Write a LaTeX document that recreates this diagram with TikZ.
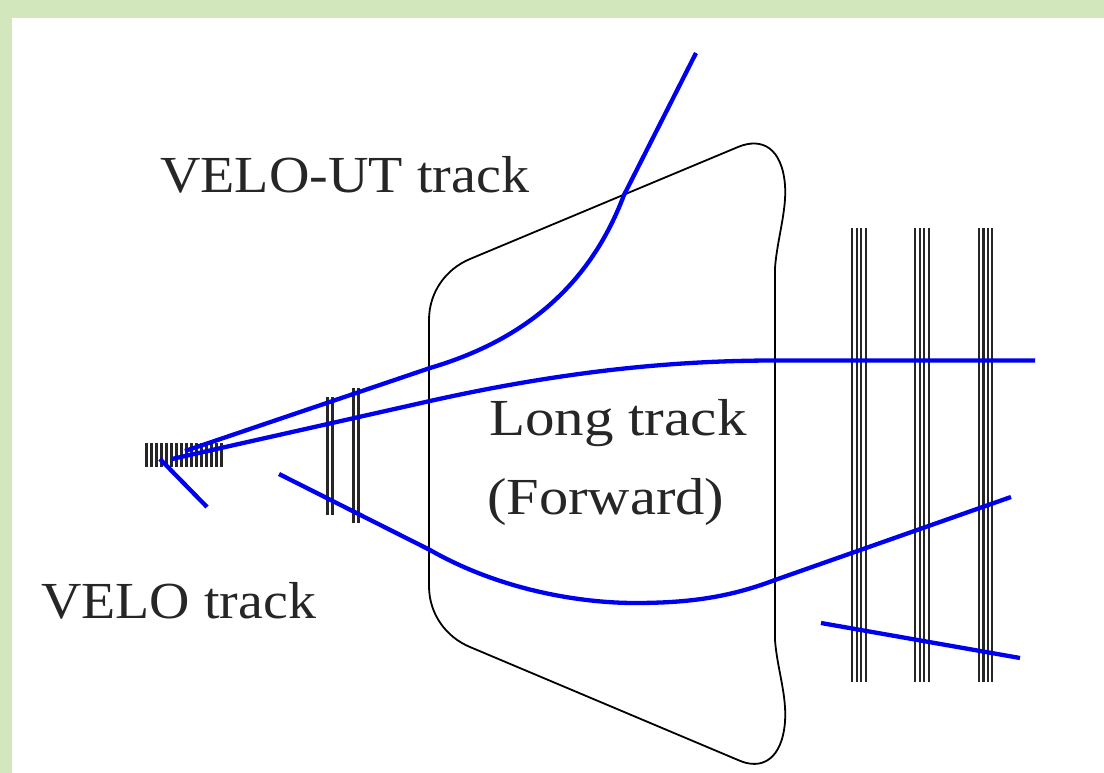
\documentclass[tikz,border=0pt]{standalone}
\usepackage{fontspec}
\setmainfont{Liberation Serif}
\definecolor{framegreen}{HTML}{D3E7BD}
\definecolor{trackblue}{HTML}{0000F0}
\definecolor{labelgrey}{HTML}{262626}
\tikzset{
  track/.style={draw=trackblue,line width=4.3pt},
  magnet/.style={draw=black,line width=1.8pt},
  strip/.style={draw=black!85,line width=2.2pt},
  lab/.style={text=labelgrey,font=\fontsize{52}{58}\selectfont,anchor=base west,inner sep=0pt,transform shape}
}
\begin{document}
\begin{tikzpicture}[x=1pt,y=-1pt]
\useasboundingbox (0,0) rectangle (1104,773);
\fill[framegreen] (0,0) rectangle (1104,773);
\fill[white] (12,18) rectangle (1104,773);
% magnet
\draw[magnet] (429,320) .. controls (429,292) and (446,269) .. (470,259)
  -- (738,147) .. controls (762,137) and (782,148) .. (785,185)
  .. controls (787,210) and (777,240) .. (775,268)
  -- (775,640) .. controls (777,668) and (787,695) .. (785,722)
  .. controls (782,759) and (762,771) .. (738,760)
  -- (470,647) .. controls (446,637) and (429,614) .. (429,586) -- cycle;
% VELO
\foreach \x in {0,...,15} \draw[strip,line width=2.5pt] ({146.3+\x*5},443) -- ({146.3+\x*5},467);
% UT
\foreach \x in {327.5,332.5} \draw[strip] (\x,397) -- (\x,515);
\foreach \x in {353.5,358.5} \draw[strip] (\x,388) -- (\x,523);
% T stations
\foreach \x in {852,856.7,861.2,865.8,915.2,919.6,924.1,928.7,979,983.4,987.8,992.3}
  \draw[strip] (\x,228) -- (\x,682);
% tracks
\draw[track] (160,459) -- (207,507);
\draw[track] (185,451) -- (430,368) .. controls (525,340) and (590,285) .. (624,195) -- (696,53);
\draw[track] (172,459) -- (430,401) .. controls (560,372) and (670,360.5) .. (775,360.5) -- (1035,360.5);
\draw[track] (279,474) -- (430,550) .. controls (500,590) and (580,603) .. (635,603) .. controls (690,603) and (730,597) .. (775,580) -- (1011,497);
\draw[track] (821,623) -- (1020,658);
% labels
\node[lab,xscale=1.078] (veloUT) at (160,192.5) {VELO-UT track};
\node[lab,xscale=1.135] (long) at (489,435) {Long track};
\node[lab,xscale=1.125] (forward) at (487,514) {(Forward)};
\node[lab,xscale=1.075] (velo) at (41,618) {VELO track};
\end{tikzpicture}
\end{document}
